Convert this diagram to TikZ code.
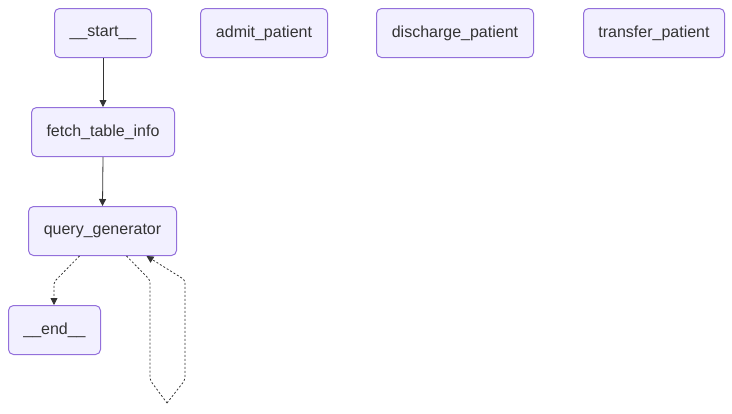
\documentclass[tikz,border=0pt]{standalone}
\usepackage{fontspec}
\setmainfont{Liberation Sans}
\usetikzlibrary{arrows.meta}
\definecolor{nodefill}{HTML}{F2F0FF}
\definecolor{nodeline}{HTML}{9370DB}
\definecolor{ink}{HTML}{333333}
\tikzset{
  gnode/.style={draw=nodeline, fill=nodefill, line width=1pt, rounded corners=5pt,
    text=ink, font=\fontsize{16}{19}\selectfont, inner sep=0pt, anchor=north west},
  edge/.style={draw=ink, line width=0.8pt, -{Triangle[length=7pt,width=7pt]}},
  dedge/.style={edge, dash pattern=on 2pt off 2pt, rounded corners=2pt}
}
\begin{document}
\begin{tikzpicture}[x=1pt,y=-1pt]
\useasboundingbox (0,0) rectangle (732,413);
\node[gnode, minimum width=97pt, minimum height=49pt] (start) at (54,8) {\_\_start\_\_};
\node[gnode, minimum width=127pt, minimum height=49pt] (admit) at (200,8) {admit\_patient};
\node[gnode, minimum width=157pt, minimum height=49pt] (discharge) at (376,8) {discharge\_patient};
\node[gnode, minimum width=141pt, minimum height=49pt] (transfer) at (583,8) {transfer\_patient};
\node[gnode, minimum width=143pt, minimum height=49pt] (fetch) at (31,107) {fetch\_table\_info};
\node[gnode, minimum width=148pt, minimum height=49pt] (query) at (28,206) {query\_generator};
\node[gnode, minimum width=92pt, minimum height=49pt] (end) at (8,305) {\_\_end\_\_};
\coordinate (lb) at (167,403);
\draw[edge] (start.south) -- (fetch.north);
\draw[edge] (fetch.south) -- (query.north);
\draw[dedge] ([xshift=-23pt]query.south) -- (54,282) -- (end.north -| 54,0);
\draw[dash pattern=on 2pt off 2pt, draw=ink, line width=0.8pt, rounded corners=2pt]
  ([xshift=24pt]query.south) -- (150,280) -- (150,380) -- (lb);
\draw[dedge] (lb) -- (185,380) -- (185,280) -- ([xshift=44pt]query.south);
\end{tikzpicture}
\end{document}
